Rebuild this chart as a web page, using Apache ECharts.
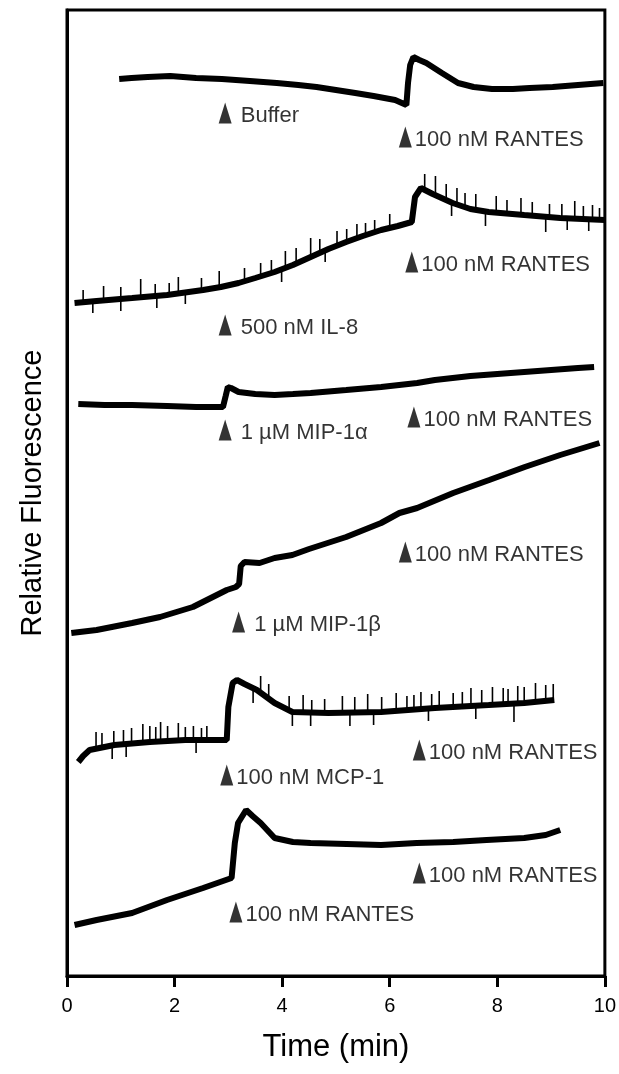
<!DOCTYPE html>
<html>
<head>
<meta charset="utf-8">
<title>Relative Fluorescence vs Time</title>
<script src="https://cdn.jsdelivr.net/npm/echarts@6/dist/echarts.min.js"></script>
<style>
  html, body { margin: 0; padding: 0; background: #fff; }
  #chart { width: 619px; height: 1074px; }
</style>
</head>
<body>
<div id="chart"></div>
<script>
// traces, [time (min), relative fluorescence (a.u.)]
var buffer = [[0.97,897],[1.2,898],[1.5,899],[1.92,900],[2.4,898],[2.88,897],[3.4,895],[3.9,893],[4.3,891],[4.64,889],[5.0,886],[5.36,883],[5.7,880],[6.1,876],[6.31,871],[6.34,893],[6.38,911],[6.44,919],[6.55,916],[6.68,913],[6.97,903],[7.27,893],[7.56,889],[7.9,887],[8.29,887],[8.6,888],[9.03,889],[9.5,891],[9.97,893]];
var il8 = [[0.14,673],[0.55,675],[1.21,678],[1.86,681],[2.53,686],[2.86,689],[3.19,693],[3.5,698],[3.86,704],[4.2,711],[4.53,719],[4.86,727],[5.19,734],[5.5,740],[5.84,746],[6.15,750],[6.41,754],[6.47,779],[6.58,788],[6.8,782],[7.17,773],[7.5,767],[7.84,764],[8.5,761],[9.17,758],[10,756]];
var mip1a = [[0.21,572],[0.7,571],[1.21,571],[1.86,570],[2.4,569],[2.9,569],[2.95,580],[2.99,589],[3.05,588],[3.19,584],[3.5,582],[3.86,581],[4.2,582],[4.53,583],[5.19,586],[5.84,589],[6.51,593],[6.84,596],[7.5,600],[8.0,602],[8.5,604],[9.0,606],[9.5,608],[9.8,609]];
var mip1b = [[0.08,343],[0.55,346],[1.21,353],[1.73,359],[2.34,369],[2.97,386],[3.14,389],[3.2,392],[3.23,410],[3.3,414],[3.58,413],[3.86,418],[4.19,421],[4.5,427],[5.19,439],[5.84,453],[6.18,463],[6.51,468],[7.18,483],[7.85,496],[8.51,509],[9.17,521],[9.9,533]];
var mcp1 = [[0.21,214],[0.3,220],[0.42,226],[0.88,231],[1.54,234],[2.2,236],[2.6,236],[2.97,236],[3.0,269],[3.08,293],[3.16,296],[3.3,292],[3.53,286],[3.86,273],[4.19,264],[4.86,263],[5.84,264],[6.84,268],[7.84,271],[8.5,273],[9.06,276]];
var rantes = [[0.14,51],[0.55,56],[1.21,63],[1.86,76],[2.53,88],[3.06,98],[3.12,133],[3.18,153],[3.33,166],[3.45,160],[3.6,153],[3.86,138],[4.2,134],[4.53,133],[5.2,132],[5.84,131],[6.5,133],[7.18,134],[7.8,136],[8.5,138],[8.9,141],[9.17,146]];

// noise spikes, [time, low, high]
var il8Spikes = [[0.3,674,686],[0.68,676,690],[1.0,677,689],[1.37,679,697],[1.64,680,692],[1.9,681,693],[2.07,683,699],[2.5,686,698],[2.83,689,705],[3.3,695,708],[3.6,700,713],[3.8,703,716],[4.06,709,725],[4.26,713,728],[4.53,719,738],[4.7,723,737],[5.02,730,745],[5.2,734,747],[5.39,738,752],[5.55,741,753],[5.72,744,756],[6.0,748,762],
  [6.65,786,802],[6.85,781,800],[7.05,776,792],[7.25,772,788],[7.4,769,783],[7.6,766,782],[7.98,763,780],[8.18,762,776],[8.44,761,778],[8.65,760,774],[8.97,759,772],[9.2,758,772],[9.44,757,775],[9.6,757,770],[9.77,757,771],[9.9,756,768],
  [0.48,663,675],[1.0,665,677],[1.67,668,680],[2.2,672,684],[3.99,694,707],[4.8,714,727],[7.15,760,773],[7.78,750,765],[8.9,744,759],[9.3,746,758],[9.7,745,757]];
var mcp1Spikes = [[0.54,228,244],[0.65,229,243],[0.87,231,245],[1.05,232,246],[1.2,232,248],[1.41,233,252],[1.54,234,250],[1.65,234,249],[1.74,235,254],[1.87,235,250],[2.07,236,253],[2.2,236,249],[2.35,236,250],[2.5,236,248],[2.6,236,250],
  [3.6,284,300],[3.75,277,292],[4.13,265,280],[4.39,263,281],[4.55,263,276],[4.79,263,277],[5.12,263,280],[5.35,263,279],[5.59,264,282],[5.85,264,279],[6.12,265,283],[6.32,266,280],[6.45,266,281],[6.58,267,284],[6.78,268,282],[6.92,268,285],
  [7.18,269,283],[7.35,270,284],[7.51,270,288],[7.71,271,286],[7.91,271,289],[8.11,272,288],[8.2,272,287],[8.38,273,290],[8.5,273,289],[8.71,274,293],[8.9,275,291],[9.04,276,292],
  [0.84,217,231],[1.1,219,232],[2.4,223,236],[3.46,273,288],[4.19,250,264],[4.53,250,263],[5.26,250,263],[5.7,251,264],[6.72,255,268],[7.6,257,270],[8.31,254,272]];

// injection arrows: [time, level], with their texts
var markers = [[2.94,863],[6.29,839],[2.94,651],[6.41,714],[2.94,546],[6.45,559],[3.19,354],[6.29,424],[6.55,226],[2.97,201],[6.55,103],[3.14,64]];
var markerTexts = [' Buffer','100 nM RANTES',' 500 nM IL-8','100 nM RANTES',' 1 \u00b5M MIP-1\u03b1','100 nM RANTES',' 1 \u00b5M MIP-1\u03b2','100 nM RANTES','100 nM RANTES','100 nM MCP-1','100 nM RANTES','100 nM RANTES'];

var xTicks = [0, 2, 4, 6, 8, 10];

var FONT = '"Liberation Sans", Arial, Helvetica, sans-serif';

var chart = echarts.init(document.getElementById('chart'));

function trace(data) {
  return {
    type: 'line',
    data: data,
    showSymbol: false,
    silent: true,
    lineStyle: { color: '#000', width: 6 },
    z: 2
  };
}

function spikes(data) {
  return {
    type: 'custom',
    data: data,
    silent: true,
    encode: { x: 0, y: [1, 2] },
    renderItem: function (params, api) {
      var a = api.coord([api.value(0), api.value(1)]);
      var b = api.coord([api.value(0), api.value(2)]);
      return {
        type: 'line',
        shape: { x1: a[0], y1: a[1], x2: b[0], y2: b[1] },
        style: { stroke: '#000', lineWidth: 1.6 }
      };
    },
    z: 3
  };
}

chart.setOption({
  animation: false,
  backgroundColor: '#fff',
  grid: {
    left: 67, right: 12, top: 10, bottom: 98,
    show: true, borderColor: '#000', borderWidth: 3
  },
  xAxis: {
    type: 'value',
    min: 0, max: 10, interval: 2,
    axisLine: { lineStyle: { color: '#000', width: 3 } },
    axisTick: { inside: false, length: 11, lineStyle: { color: '#000', width: 3 } },
    axisLabel: {
      margin: 20, color: '#000', fontSize: 20, fontFamily: FONT,
      formatter: function (v) { return xTicks.indexOf(v) >= 0 ? String(v) : ''; }
    },
    splitLine: { show: false },
    name: 'Time (min)',
    nameLocation: 'middle',
    nameGap: 56,
    nameTextStyle: { color: '#000', fontSize: 31, fontFamily: FONT }
  },
  yAxis: {
    type: 'value',
    min: 0, max: 966,
    axisLine: { show: true, lineStyle: { color: '#000', width: 3 } },
    axisTick: { show: false },
    axisLabel: { show: false },
    splitLine: { show: false },
    name: 'Relative Fluorescence',
    nameLocation: 'middle',
    nameRotate: 90,
    nameGap: 20,
    nameTextStyle: { color: '#000', fontSize: 29, fontFamily: FONT }
  },
  series: [
    trace(buffer), trace(il8), trace(mip1a), trace(mip1b), trace(mcp1), trace(rantes),
    spikes(il8Spikes), spikes(mcp1Spikes),
    {
      type: 'scatter',
      silent: true,
      symbol: 'triangle',
      symbolSize: [13, 21],
      itemStyle: { color: '#000' },
      data: markers.map(function (m, i) { return { value: m, name: markerTexts[i] }; }),
      label: {
        show: true,
        position: 'right',
        distance: 3,
        offset: [0, 3],
        formatter: '{b}',
        color: '#000',
        fontSize: 22,
        fontFamily: FONT
      },
      z: 4
    }
  ]
});
</script>
</body>
</html>
